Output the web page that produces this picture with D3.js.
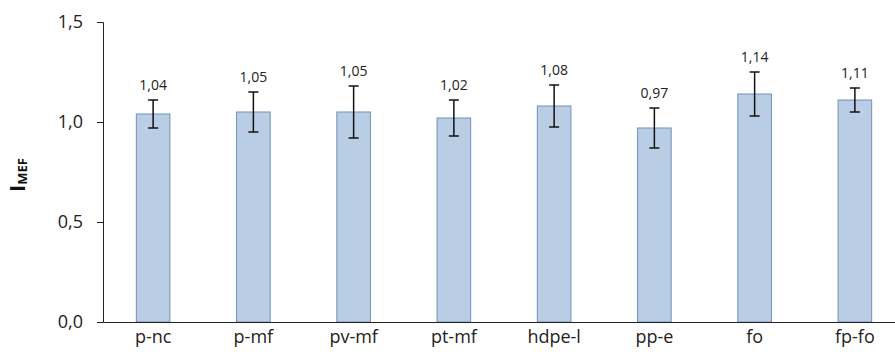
<!DOCTYPE html>
<html>
<head>
<meta charset="utf-8">
<script src="https://cdn.jsdelivr.net/npm/d3@7"></script>
<style>
  html, body { margin: 0; padding: 0; background: #fff; }
  svg { display: block; font-family: "Open Sans", Lato, sans-serif; }
</style>
</head>
<body>
<svg id="chart" width="895" height="359"></svg>
<script>
// Mean index per sample and its standard deviation
const categories = ["p-nc", "p-mf", "pv-mf", "pt-mf", "hdpe-l", "pp-e", "fo", "fp-fo"];
const values     = [1.04, 1.05, 1.05, 1.02, 1.08, 0.97, 1.14, 1.11];
const errors     = [0.07, 0.10, 0.13, 0.09, 0.105, 0.10, 0.11, 0.06];
const yTicks     = [0, 0.5, 1.0, 1.5];

const svg = d3.select("#chart");
const plotLeft = 103, plotRight = 905, plotTop = 22, plotBottom = 322;
const fontFam = "'Open Sans', Lato, sans-serif";

const x = d3.scaleBand().domain(categories).range([plotLeft, plotRight]).paddingInner(0.665).paddingOuter(0.3325);
const y = d3.scaleLinear().domain([0, 1.5]).range([plotBottom, plotTop]);
const fmt = d => d3.format(".1f")(d).replace(".", ",");
const fmt2 = d => d3.format(".2f")(d).replace(".", ",");

// Bars
svg.append("g").selectAll("rect").data(categories).join("rect")
  .attr("x", d => x(d))
  .attr("y", (d, i) => y(values[i]))
  .attr("width", x.bandwidth())
  .attr("height", (d, i) => y(0) - y(values[i]))
  .attr("fill", "#b9cde5")
  .attr("stroke", "#6f90b8")
  .attr("stroke-width", 1);

// Error bars
const eb = svg.append("g").attr("stroke", "#111").attr("stroke-width", 1.5);
categories.forEach((c, i) => {
  const cx = x(c) + x.bandwidth() / 2;
  const y1 = y(values[i] + errors[i]), y2 = y(values[i] - errors[i]);
  eb.append("line").attr("x1", cx).attr("x2", cx).attr("y1", y1).attr("y2", y2);
  eb.append("line").attr("x1", cx - 5).attr("x2", cx + 5).attr("y1", y1).attr("y2", y1);
  eb.append("line").attr("x1", cx - 5).attr("x2", cx + 5).attr("y1", y2).attr("y2", y2);
});

// Value labels
svg.append("g").selectAll("text").data(categories).join("text")
  .attr("x", d => x(d) + x.bandwidth() / 2)
  .attr("y", (d, i) => y(values[i] + errors[i]) - 10)
  .attr("text-anchor", "middle")
  .attr("font-size", 14)
  .attr("fill", "#222")
  .text((d, i) => fmt2(values[i]));

// Y axis
const yAxis = svg.append("g").attr("transform", `translate(${plotLeft},0)`)
  .call(d3.axisLeft(y).tickValues(yTicks).tickFormat(fmt).tickSize(6).tickPadding(14));
yAxis.select(".domain").attr("stroke", "#222");
yAxis.selectAll(".tick line").attr("stroke", "#222");
yAxis.selectAll(".tick text").attr("font-size", 18).attr("fill", "#222")
  .style("font-family", fontFam);

// X axis
const xAxis = svg.append("g").attr("transform", `translate(0,${plotBottom})`)
  .call(d3.axisBottom(x).tickSize(0));
xAxis.select(".domain").attr("stroke", "#222");
xAxis.selectAll(".tick text").attr("font-size", 18).attr("fill", "#222")
  .attr("y", 21).attr("dy", 0)
  .style("font-family", fontFam);

// Y axis title: I with subscript MEF
const title = svg.append("text")
  .attr("transform", `translate(25,175) rotate(-90)`)
  .attr("text-anchor", "middle")
  .attr("font-weight", "bold")
  .attr("fill", "#111");
title.append("tspan").attr("font-size", 22).text("I");
title.append("tspan").attr("font-size", 13).attr("dy", 2).text("MEF");
</script>
</body>
</html>
